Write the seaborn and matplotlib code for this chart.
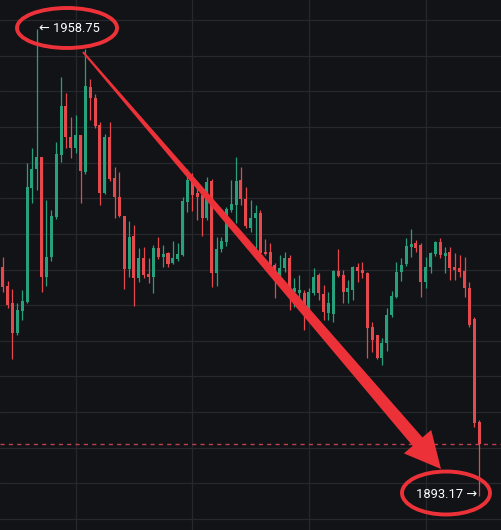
import numpy as np
import pandas as pd
import seaborn as sns
import matplotlib.pyplot as plt
from matplotlib.patches import Ellipse, Polygon

# OHLC candles
opens = [1925.4, 1922.7, 1920.3, 1916.1, 1919.2, 1920.5, 1936.4, 1939.1, 1940.8, 1923.9,
         1926.8, 1932.4, 1941.1, 1947.9, 1943.6, 1942.0, 1943.9, 1938.7, 1950.6, 1949.1,
         1945.3, 1935.7, 1943.6, 1937.8, 1935.2, 1932.5, 1925.1, 1929.7, 1923.8, 1926.6,
         1924.4, 1923.9, 1928.0, 1926.8, 1927.3, 1925.9, 1926.5, 1927.0, 1934.5, 1937.6,
         1935.7, 1935.5, 1932.2, 1937.4, 1924.5, 1927.9, 1928.9, 1933.4, 1934.0, 1937.6,
         1934.9, 1930.8, 1932.2, 1932.9, 1927.5, 1927.5, 1925.6, 1923.9, 1925.2, 1926.6,
         1921.8, 1921.7, 1921.7, 1919.6, 1921.7, 1924.2, 1921.6, 1918.9, 1918.8, 1924.8,
         1924.2, 1921.8, 1922.1, 1925.4, 1924.9, 1924.5, 1916.9, 1915.8, 1912.6, 1914.7,
         1918.6, 1921.1, 1924.7, 1925.8, 1928.2, 1928.7, 1928.4, 1923.2, 1925.4, 1927.2,
         1928.9, 1926.9, 1927.5, 1925.4, 1925.2, 1924.8, 1922.4, 1918.1, 1903.6]
highs = [1926.8, 1923.4, 1922.3, 1920.3, 1922.1, 1939.9, 1942.0, 1958.75, 1940.8, 1934.8,
         1933.4, 1942.9, 1952.0, 1949.8, 1946.4, 1946.7, 1943.9, 1955.9, 1951.7, 1949.6,
         1945.7, 1944.0, 1945.7, 1939.4, 1938.7, 1932.5, 1931.8, 1931.2, 1928.0, 1928.2,
         1926.6, 1928.4, 1929.6, 1928.4, 1927.5, 1929.0, 1928.7, 1935.2, 1939.1, 1938.5,
         1936.6, 1936.2, 1938.0, 1937.7, 1929.6, 1929.6, 1933.8, 1937.6, 1940.8, 1939.4,
         1936.6, 1934.8, 1934.0, 1933.4, 1929.3, 1928.7, 1925.9, 1927.0, 1927.5, 1927.0,
         1923.8, 1924.2, 1922.1, 1922.4, 1925.2, 1924.5, 1922.8, 1921.8, 1924.9, 1927.9,
         1924.9, 1923.5, 1925.5, 1925.9, 1926.1, 1924.7, 1917.6, 1915.8, 1915.4, 1919.6,
         1922.0, 1926.1, 1926.6, 1929.4, 1930.7, 1929.1, 1928.7, 1926.8, 1927.5, 1929.0,
         1929.4, 1928.2, 1928.2, 1927.3, 1927.0, 1926.8, 1923.2, 1918.3, 1903.9]
lows = [1921.8, 1919.6, 1912.5, 1915.8, 1917.9, 1920.3, 1934.3, 1936.2, 1921.8, 1922.7,
        1926.2, 1932.1, 1940.1, 1942.0, 1940.6, 1941.3, 1934.3, 1938.4, 1946.0, 1944.8,
        1934.0, 1935.6, 1937.4, 1932.2, 1932.4, 1922.3, 1923.9, 1919.9, 1923.2, 1923.8,
        1923.1, 1921.7, 1926.5, 1925.4, 1925.4, 1925.8, 1926.2, 1926.9, 1933.1, 1933.2,
        1932.0, 1929.7, 1932.0, 1922.6, 1922.7, 1927.5, 1928.3, 1933.1, 1931.5, 1934.0,
        1930.8, 1930.3, 1928.0, 1927.0, 1927.0, 1925.4, 1921.0, 1923.8, 1924.7, 1919.3,
        1919.7, 1919.3, 1916.5, 1919.0, 1921.4, 1920.7, 1917.9, 1917.9, 1917.6, 1923.9,
        1920.3, 1920.3, 1920.7, 1923.2, 1923.8, 1912.6, 1913.4, 1912.5, 1911.6, 1913.6,
        1918.3, 1921.0, 1923.4, 1925.5, 1926.8, 1927.5, 1921.1, 1922.4, 1924.5, 1926.9,
        1926.6, 1924.5, 1923.5, 1923.5, 1923.9, 1921.1, 1916.9, 1902.9, 1893.17]
closes = [1922.6, 1920.0, 1916.1, 1919.3, 1920.6, 1936.6, 1939.1, 1940.8, 1923.9, 1926.8,
          1932.5, 1941.2, 1947.9, 1943.6, 1942.0, 1943.9, 1938.8, 1950.7, 1949.1, 1945.1,
          1935.7, 1943.6, 1937.7, 1935.2, 1932.5, 1925.1, 1929.6, 1923.8, 1926.6, 1924.2,
          1923.9, 1928.0, 1926.8, 1927.2, 1925.8, 1926.6, 1927.2, 1934.6, 1937.6, 1935.5,
          1935.2, 1932.2, 1937.3, 1924.5, 1927.9, 1929.0, 1933.5, 1934.2, 1937.4, 1934.9,
          1931.1, 1932.2, 1932.9, 1927.3, 1927.2, 1925.6, 1924.9, 1925.2, 1926.6, 1921.1,
          1922.4, 1922.1, 1919.6, 1921.8, 1923.9, 1921.7, 1919.0, 1920.3, 1924.8, 1924.1,
          1921.8, 1922.4, 1925.4, 1924.8, 1924.5, 1916.8, 1915.1, 1912.6, 1914.7, 1918.6,
          1921.3, 1924.7, 1925.6, 1928.3, 1928.6, 1928.0, 1923.2, 1925.4, 1927.3, 1928.9,
          1927.0, 1927.3, 1925.2, 1924.9, 1924.7, 1922.4, 1917.2, 1903.5, 1900.5]

high_label = "← 1958.75"
low_label = "1893.17 →"

df = pd.DataFrame({"open": opens, "high": highs, "low": lows, "close": closes})
df["idx"] = np.arange(len(df))
df["up"] = df["close"] >= df["open"]

bg = "#121317"
up_col = "#26a17c"
down_col = "#e5484d"
mark_col = "#ec3238"

sns.set_theme(style="dark", rc={"axes.facecolor": bg, "figure.facecolor": bg})
fonts = ["Roboto", "DejaVu Sans"]

fig = plt.figure(figsize=(5.01, 5.30), dpi=100)
ax = fig.add_axes([0, 0, 1, 1])
ax.set_facecolor(bg)

# grid
for p in np.arange(1890, 1965, 5):
    ax.axhline(p, color="#26282c", lw=0.9, zorder=0)
for v in [15, 39, 63, 87]:
    ax.axvline(v, color="#26282c", lw=0.9, zorder=0)

colors = np.where(df["up"], up_col, down_col)
ax.vlines(df["idx"], df["low"], df["high"], colors=colors, lw=0.9, zorder=2)
body = (df["close"] - df["open"]).abs().clip(lower=0.12)
ax.bar(df["idx"], body, bottom=df[["open", "close"]].min(axis=1), width=0.62,
       color=colors, linewidth=0, zorder=3)

# last price line
ax.axhline(closes[-1], color="#b8404f", lw=1.0, ls=(0, (3, 3)), zorder=1)

ax.set_xlim(-0.56, 102.5)
ax.set_ylim(1888.47, 1962.8)
ax.set_xticks([])
ax.set_yticks([])
for s in ax.spines.values():
    s.set_visible(False)

W, H = 501, 530
def fx(x, y):
    return (x / W, 1 - y / H)

# annotations
ax.text(*fx(39, 28), high_label, transform=ax.transAxes, color="white",
        fontsize=9.3, family=fonts, ha="left", va="center", zorder=6)
ax.text(*fx(477, 494), low_label, transform=ax.transAxes, color="white",
        fontsize=9.3, family=fonts, ha="right", va="center", zorder=6)
ax.add_patch(Ellipse(fx(67, 28), 100 / W, 40 / H, transform=ax.transAxes,
                     fill=False, ec=mark_col, lw=2.8, zorder=7))
ax.add_patch(Ellipse(fx(446, 493), 88 / W, 43 / H, transform=ax.transAxes,
                     fill=False, ec=mark_col, lw=2.8, zorder=7))

# tapered arrow
sx, sy = 83, 52
tx, ty = 441, 469
d = np.array([tx - sx, ty - sy], dtype=float)
u = d / np.hypot(*d)
n = np.array([-u[1], u[0]])
head_len, head_w = 36, 36
base = np.array([tx, ty]) - u * head_len
start = np.array([sx, sy], dtype=float)
w0, w1 = 1.0, 6.5
pts = [start + n * w0, base + n * w1, base + n * head_w / 2, np.array([tx, ty]),
       base - n * head_w / 2, base - n * w1, start - n * w0]
ax.add_patch(Polygon([fx(*p) for p in pts], closed=True, transform=ax.transAxes,
                     fc=mark_col, ec="none", zorder=5))

fig.savefig("out.png", dpi=100, facecolor=bg)
